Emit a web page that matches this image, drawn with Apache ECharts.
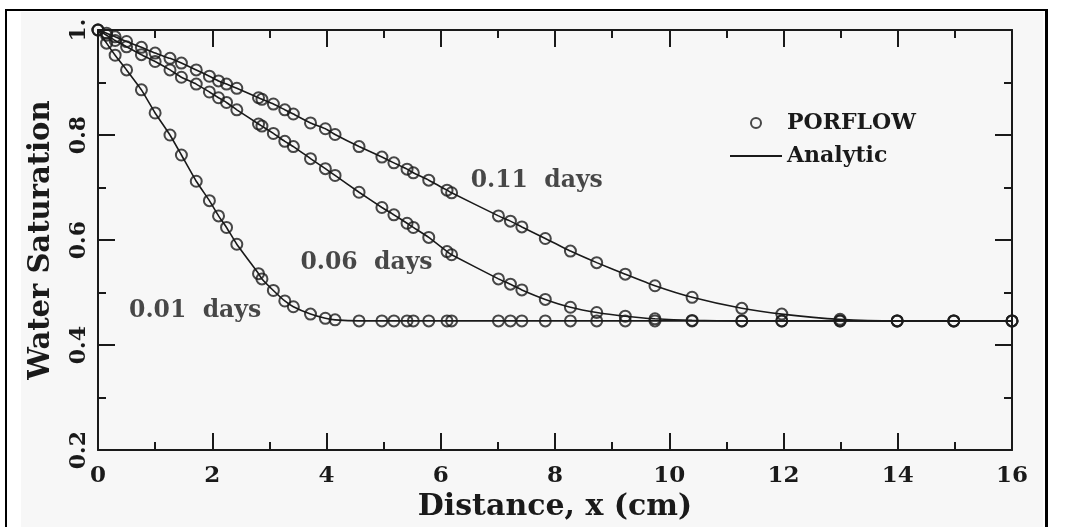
<!DOCTYPE html>
<html>
<head>
<meta charset="utf-8">
<script src="https://cdn.jsdelivr.net/npm/echarts@6/dist/echarts.min.js"></script>
<style>
html,body{margin:0;padding:0;background:#fff;}
#chart{width:1084px;height:527px;}
</style>
</head>
<body>
<div id="chart"></div>
<script>
// ---- data ----
const xNodes = [0, 0.15, 0.3, 0.5, 0.76, 1.0, 1.26, 1.46, 1.72, 1.95, 2.11, 2.25, 2.43, 2.81, 2.87, 3.07, 3.27, 3.42, 3.72, 3.98, 4.15, 4.57, 4.97, 5.18, 5.41, 5.52, 5.79, 6.11, 6.19, 7.01, 7.22, 7.42, 7.83, 8.27, 8.73, 9.23, 9.75, 10.40, 11.27, 11.97, 12.99, 13.99, 14.98, 16.0];
const sat001 = [1.0, 0.975, 0.952, 0.924, 0.886, 0.842, 0.800, 0.762, 0.712, 0.675, 0.646, 0.624, 0.592, 0.536, 0.526, 0.504, 0.484, 0.473, 0.459, 0.451, 0.448, 0.446, 0.446, 0.446, 0.446, 0.446, 0.446, 0.446, 0.446, 0.446, 0.446, 0.446, 0.446, 0.446, 0.446, 0.446, 0.446, 0.446, 0.446, 0.446, 0.446, 0.446, 0.446, 0.446];
const sat006 = [1.0, 0.990, 0.980, 0.968, 0.953, 0.940, 0.924, 0.910, 0.897, 0.882, 0.871, 0.862, 0.848, 0.821, 0.817, 0.803, 0.788, 0.778, 0.755, 0.736, 0.723, 0.691, 0.662, 0.648, 0.632, 0.624, 0.605, 0.578, 0.572, 0.526, 0.516, 0.505, 0.487, 0.472, 0.462, 0.455, 0.450, 0.447, 0.446, 0.446, 0.446, 0.446, 0.446, 0.446];
const sat011 = [1.0, 0.994, 0.987, 0.978, 0.967, 0.956, 0.946, 0.937, 0.924, 0.912, 0.903, 0.897, 0.889, 0.871, 0.868, 0.859, 0.848, 0.840, 0.823, 0.812, 0.801, 0.778, 0.758, 0.747, 0.735, 0.728, 0.714, 0.695, 0.690, 0.646, 0.636, 0.625, 0.603, 0.579, 0.557, 0.535, 0.513, 0.491, 0.470, 0.459, 0.449, 0.446, 0.446, 0.446];
const xTickLabels = ['0', '2', '4', '6', '8', '10', '12', '14', '16'];
const yTickLabels = ['0.2', '0.4', '0.6', '0.8', '1.'];
const curveLabels = ['0.01  days', '0.06  days', '0.11  days'];
const curveLabelAt = [[1.70, 0.465], [4.70, 0.556], [7.68, 0.712]];
const legendNames = ['PORFLOW', 'Analytic'];
const axisNames = ['Distance, x (cm)', 'Water Saturation'];

// ---- chart ----
const INK = '#1a1a1a';
const FONT = 'DejaVu Serif';
const curves = [sat001, sat006, sat011];
const pairs = arr => xNodes.map((x, i) => [x, arr[i]]);

const tickCommon = {
  axisTick: {show: true, inside: true, length: 17, lineStyle: {color: INK, width: 2}},
  minorTick: {show: true, splitNumber: 2, length: 8, lineStyle: {color: INK, width: 2}},
  axisLine: {show: true, onZero: false, lineStyle: {color: INK, width: 2}},
  splitLine: {show: false}
};

const series = [];
curves.forEach(c => {
  series.push({
    name: legendNames[1], type: 'line', data: pairs(c), symbol: 'none', showSymbol: false, smooth: 0.15,
    lineStyle: {color: INK, width: 1.6}, itemStyle: {color: INK}, z: 3
  });
});
curves.forEach(c => {
  series.push({
    name: legendNames[0], type: 'scatter', data: pairs(c), symbol: 'circle', symbolSize: 11,
    itemStyle: {color: 'rgba(0,0,0,0)', borderColor: INK, borderWidth: 2}, z: 4
  });
});
series.push({
  name: 'labels', type: 'scatter', symbolSize: 0, silent: true,
  data: curveLabels.map((t, i) => ({name: t, value: curveLabelAt[i]})),
  label: {show: true, position: 'inside', formatter: '{b}', color: INK,
          fontFamily: FONT, fontWeight: 'bold', fontSize: 23.5}
});

const chart = echarts.init(document.getElementById('chart'), null, {renderer: 'canvas'});
chart.setOption({
  animation: false,
  backgroundColor: '#ffffff',
  graphic: [
    {type: 'rect', z: -10, shape: {x: 21, y: 12, width: 1022, height: 515}, style: {fill: '#f7f7f7'}},
    {type: 'rect', z: -9, shape: {x: 5, y: 9, width: 1043, height: 2}, style: {fill: '#000'}},
    {type: 'rect', z: -9, shape: {x: 5, y: 9, width: 2, height: 520}, style: {fill: '#000'}},
    {type: 'rect', z: -9, shape: {x: 1045, y: 9, width: 3, height: 520}, style: {fill: '#000'}}
  ],
  grid: {left: 98, top: 30, width: 914, height: 422, containLabel: false},
  legend: {
    data: [
      {name: legendNames[0], icon: 'circle',
       itemStyle: {color: 'rgba(0,0,0,0)', borderColor: INK, borderWidth: 2}},
      {name: legendNames[1], icon: 'path://M0,0 L52,0 L52,2 L0,2 Z',
       itemStyle: {color: INK, borderWidth: 0}}
    ],
    orient: 'vertical', left: 725, top: 107,
    itemWidth: 52, itemHeight: 10, itemGap: 11,
    textStyle: {color: INK, fontFamily: FONT, fontWeight: 'bold', fontSize: 22},
    selectedMode: false
  },
  xAxis: [
    Object.assign({
      type: 'value', position: 'bottom', min: 0, max: 16, interval: 2,
      name: axisNames[0], nameLocation: 'middle', nameGap: 39,
      nameTextStyle: {color: INK, fontFamily: FONT, fontWeight: 'bold', fontSize: 30},
      axisLabel: {show: true, margin: 14, color: INK, fontFamily: FONT, fontWeight: 'bold', fontSize: 23,
                  formatter: v => xTickLabels[Math.round(v / 2)]}
    }, tickCommon),
    Object.assign({
      type: 'value', position: 'top', min: 0, max: 16, interval: 2, axisLabel: {show: false}
    }, tickCommon)
  ],
  yAxis: [
    Object.assign({
      type: 'value', position: 'left', min: 0.2, max: 1.0, interval: 0.2,
      name: axisNames[1], nameLocation: 'middle', nameGap: 42, nameRotate: 90,
      nameTextStyle: {color: INK, fontFamily: FONT, fontWeight: 'bold', fontSize: 29},
      axisLabel: {show: true, rotate: 90, margin: 8, color: INK, fontFamily: FONT, fontWeight: 'bold', fontSize: 22,
                  formatter: v => yTickLabels[Math.round((v - 0.2) / 0.2)]}
    }, tickCommon),
    Object.assign({
      type: 'value', position: 'right', min: 0.2, max: 1.0, interval: 0.2, axisLabel: {show: false}
    }, tickCommon)
  ],
  series: series
});
</script>
</body>
</html>
